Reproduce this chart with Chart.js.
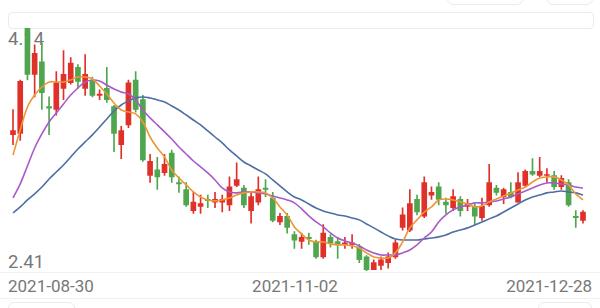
<!DOCTYPE html>
<html>
<head>
<meta charset="utf-8">
<script src="https://cdn.jsdelivr.net/npm/chart.js@4.4.0/dist/chart.umd.min.js"></script>
<style>
  body { margin: 0; background: #fff; }
  #wrap { position: relative; width: 600px; height: 308px; overflow: hidden; font-family: Roboto, "Noto Sans", sans-serif; }
  #chart { position: absolute; left: 0; top: 0; z-index: 2; }
  .lbl { position: absolute; color: #777; font-size: 17px; line-height: 17px; white-space: nowrap; z-index: 1; }
  .price { font-size: 18.5px; line-height: 18px; }
  .box { position: absolute; border: 1px solid #ebebeb; border-radius: 6px; }
  .rule { position: absolute; left: 0; width: 600px; height: 1px; background: #f1f1f1; }
</style>
</head>
<body>
<div id="wrap">
  <div class="box" style="left:8px; top:12px; width:584px; height:15px; border-radius:4px;"></div>
  <div class="box" style="left:447px; top:-22px; width:74px; height:25px;"></div>
  <div class="box" style="left:547px; top:-22px; width:44px; height:25px;"></div>
  <div class="rule" style="top:272px;"></div>
  <div class="rule" style="top:298px;"></div>
  <div class="box" style="left:8px; top:302px; width:65px; height:30px;"></div>
  <div class="box" style="left:538px; top:302px; width:52px; height:30px;"></div>

  <div class="lbl price" id="maxLbl" style="left:8px; top:30px;"></div>
  <div class="lbl price" id="minLbl" style="left:8px; top:253px;"></div>
  <div class="lbl" id="d0" style="left:8px; top:278px;"></div>
  <div class="lbl" id="d1" style="left:295px; top:278px; transform:translateX(-50%);"></div>
  <div class="lbl" id="d2" style="right:8px; top:278px;"></div>

  <canvas id="chart" width="600" height="308"></canvas>
</div>
<script>
// trading days shown in the chart
const dates = [
  '2021-08-30','2021-08-31',
  '2021-09-01','2021-09-02','2021-09-03','2021-09-06','2021-09-07','2021-09-08','2021-09-09','2021-09-10',
  '2021-09-13','2021-09-14','2021-09-15','2021-09-16','2021-09-17','2021-09-22','2021-09-23','2021-09-24',
  '2021-09-27','2021-09-28','2021-09-29','2021-09-30',
  '2021-10-08','2021-10-11','2021-10-12','2021-10-13','2021-10-14','2021-10-15','2021-10-18','2021-10-19',
  '2021-10-20','2021-10-21','2021-10-22','2021-10-25','2021-10-26','2021-10-27','2021-10-28','2021-10-29',
  '2021-11-01','2021-11-02','2021-11-03','2021-11-04','2021-11-05','2021-11-08','2021-11-09','2021-11-10',
  '2021-11-11','2021-11-12','2021-11-15','2021-11-16','2021-11-17','2021-11-18','2021-11-19','2021-11-22',
  '2021-11-23','2021-11-24','2021-11-25','2021-11-26','2021-11-29','2021-11-30',
  '2021-12-01','2021-12-02','2021-12-03','2021-12-06','2021-12-07','2021-12-08','2021-12-09','2021-12-10',
  '2021-12-13','2021-12-14','2021-12-15','2021-12-16','2021-12-17','2021-12-20','2021-12-21','2021-12-22',
  '2021-12-23','2021-12-24','2021-12-27','2021-12-28'
];

const opens = [
  3.38,3.39,4.14,3.81,3.90,3.58,3.56,3.71,3.75,3.86,
  3.71,3.76,3.66,3.71,3.58,3.31,3.45,3.77,3.63,3.09,
  3.13,3.11,3.25,3.04,2.99,2.84,2.87,2.92,2.90,2.90,
  2.88,3.02,3.00,2.84,2.90,3.00,2.93,2.76,2.80,2.67,
  2.62,2.65,2.62,2.51,2.65,2.62,2.60,2.60,2.58,2.51,
  2.42,2.45,2.47,2.51,2.72,2.70,2.92,2.80,2.95,3.01,
  2.90,2.86,2.92,2.87,2.87,2.79,2.88,3.00,2.94,2.97,
  2.90,3.02,3.12,3.09,3.09,3.09,3.01,3.04,2.80,2.77
];
const highs = [
  3.56,3.77,4.14,4.02,4.03,3.65,3.83,3.98,3.93,3.88,
  3.95,3.79,3.70,3.86,3.59,3.44,3.77,3.83,3.66,3.24,
  3.22,3.24,3.27,3.08,3.04,2.97,2.95,2.95,2.97,2.95,
  3.08,3.18,3.02,2.97,3.08,3.06,2.97,2.82,2.82,2.69,
  2.68,2.68,2.63,2.74,2.67,2.65,2.65,2.67,2.60,2.52,
  2.49,2.51,2.54,2.63,2.86,2.99,2.95,3.08,3.01,3.04,
  2.93,2.99,2.94,2.92,2.89,2.93,3.17,3.02,3.00,3.04,
  3.11,3.13,3.21,3.22,3.14,3.12,3.09,3.06,2.84,2.84
];
const lows = [
  3.31,3.34,3.77,3.65,3.56,3.38,3.52,3.63,3.74,3.71,
  3.66,3.65,3.63,3.61,3.26,3.21,3.43,3.54,3.19,3.04,
  2.99,3.09,3.04,2.97,2.87,2.82,2.82,2.86,2.86,2.83,
  2.84,3.01,2.86,2.75,2.88,2.94,2.76,2.74,2.68,2.57,
  2.57,2.60,2.50,2.50,2.58,2.50,2.57,2.57,2.47,2.41,
  2.42,2.42,2.43,2.50,2.70,2.69,2.81,2.79,2.92,2.88,
  2.82,2.84,2.80,2.84,2.74,2.77,2.87,2.95,2.89,2.93,
  2.90,3.01,3.09,3.08,3.04,2.99,2.99,2.87,2.72,2.75
];
const closes = [
  3.41,3.76,3.81,3.96,3.68,3.57,3.75,3.81,3.89,3.76,
  3.81,3.66,3.67,3.63,3.39,3.41,3.75,3.56,3.20,3.19,
  3.08,3.17,3.08,3.03,2.88,2.90,2.89,2.91,2.92,2.92,
  3.01,3.06,2.88,2.94,2.99,2.99,2.77,2.80,2.72,2.63,
  2.65,2.64,2.51,2.68,2.61,2.60,2.61,2.61,2.49,2.42,
  2.47,2.49,2.51,2.61,2.81,2.89,2.83,3.04,2.97,2.92,
  2.88,2.94,2.84,2.89,2.80,2.87,3.04,2.97,2.99,2.94,
  3.04,3.12,3.10,3.12,3.09,3.01,3.07,2.88,2.79,2.83
];

const ma5 = [
  3.236,3.414,3.578,3.663,3.720,3.756,3.756,3.756,3.770,3.791,
  3.791,3.777,3.727,3.670,3.606,3.556,3.542,3.528,3.471,3.364,
  3.286,3.222,3.129,3.072,3.023,2.973,2.937,2.916,2.909,2.916,
  2.930,2.951,2.966,2.973,2.973,2.966,2.930,2.866,2.809,2.724,
  2.674,2.631,2.617,2.617,2.603,2.596,2.596,2.589,2.574,2.539,
  2.510,2.503,2.503,2.539,2.617,2.717,2.774,2.830,2.866,2.916,
  2.923,2.916,2.902,2.887,2.866,2.873,2.902,2.923,2.944,2.966,
  2.987,3.008,3.044,3.072,3.080,3.080,3.058,3.023,2.959,2.916
];
const ma10 = [
  2.930,3.030,3.158,3.286,3.386,3.471,3.535,3.599,3.663,3.713,
  3.756,3.770,3.763,3.734,3.706,3.685,3.670,3.628,3.556,3.500,
  3.450,3.400,3.350,3.293,3.243,3.193,3.151,3.108,3.058,3.001,
  2.973,2.966,2.973,2.973,2.966,2.959,2.944,2.930,2.916,2.895,
  2.852,2.802,2.759,2.724,2.681,2.645,2.624,2.610,2.589,2.560,
  2.539,2.524,2.524,2.524,2.539,2.560,2.596,2.645,2.688,2.759,
  2.809,2.845,2.866,2.880,2.895,2.895,2.902,2.909,2.923,2.937,
  2.959,2.980,3.001,3.023,3.037,3.037,3.030,3.023,3.008,3.001
];
const ma20 = [
  2.823,2.866,2.916,2.959,3.008,3.065,3.115,3.165,3.222,3.279,
  3.329,3.379,3.435,3.492,3.549,3.592,3.621,3.642,3.649,3.642,
  3.628,3.613,3.585,3.556,3.521,3.485,3.450,3.407,3.364,3.322,
  3.272,3.229,3.186,3.158,3.129,3.101,3.058,3.016,2.973,2.937,
  2.916,2.887,2.859,2.838,2.823,2.809,2.802,2.788,2.774,2.745,
  2.717,2.688,2.660,2.638,2.631,2.631,2.631,2.638,2.645,2.653,
  2.667,2.688,2.702,2.717,2.738,2.759,2.781,2.802,2.830,2.859,
  2.887,2.916,2.937,2.951,2.966,2.973,2.980,2.973,2.966,2.951
];

const priceLabels = ['4.14', '2.41'];
const dateLabels = ['2021-08-30', '2021-11-02', '2021-12-28'];

document.getElementById('maxLbl').textContent = priceLabels[0];
document.getElementById('minLbl').textContent = priceLabels[1];
document.getElementById('d0').textContent = dateLabels[0];
document.getElementById('d1').textContent = dateLabels[1];
document.getElementById('d2').textContent = dateLabels[2];

const upColor = '#e0302a';
const downColor = '#4fa64f';
const candleColors = opens.map((o, i) => closes[i] >= o ? upColor : downColor);

function maLine(label, data, color) {
    return {
        type: 'line',
        label,
        data,
        borderColor: color,
        borderWidth: 1.6,
        pointRadius: 0,
        tension: 0.35,
        fill: false,
        order: 0,
    };
}

const ctx = document.getElementById('chart').getContext('2d');
new Chart(ctx, {
    type: 'bar',
    data: {
        labels: dates,
        datasets: [
            maLine('MA5', ma5, '#ee9636'),
            maLine('MA10', ma10, '#a85bc8'),
            maLine('MA20', ma20, '#4d6ea3'),
            {
                label: 'body',
                data: opens.map((o, i) => [Math.min(o, closes[i]), Math.max(o, closes[i])]),
                backgroundColor: candleColors,
                barThickness: 5,
                minBarLength: 1,
                grouped: false,
                order: 1,
            },
            {
                label: 'wick',
                data: lows.map((l, i) => [l, highs[i]]),
                backgroundColor: candleColors,
                barThickness: 1,
                grouped: false,
                order: 2,
            },
        ],
    },
    options: {
        responsive: false,
        animation: false,
        layout: { padding: { left: 9.4, right: 13.4, top: 28, bottom: 37 } },
        plugins: {
            legend: { display: false },
            tooltip: { enabled: false },
        },
        scales: {
            x: { display: false, offset: true },
            y: { display: false, min: 2.41, max: 4.14 },
        },
    },
});
</script>
</body>
</html>
